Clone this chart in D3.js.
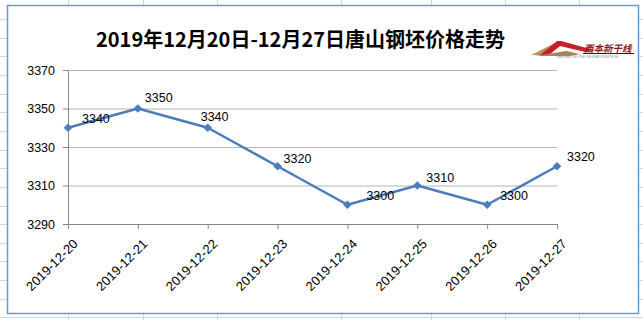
<!doctype html>
<html>
<head>
<meta charset="utf-8">
<script src="https://cdn.jsdelivr.net/npm/d3@7"></script>
<style>
  html, body { margin: 0; padding: 0; background: #fff; }
  svg { display: block; }
</style>
</head>
<body>
<script>
// chart data
const title = "2019年12月20日-12月27日唐山钢坯价格走势";
const dates = ["2019-12-20", "2019-12-21", "2019-12-22", "2019-12-23",
               "2019-12-24", "2019-12-25", "2019-12-26", "2019-12-27"];
const prices = [3340, 3350, 3340, 3320, 3300, 3310, 3300, 3320];
const yTicks = [3290, 3310, 3330, 3350, 3370];

// layout: data label nudges (label left edge / vertical center relative to the point)
const labelDx = [14, 7, -7, 6, 19, 9, 13, 10];
const labelDy = [-9, -11, -11, -8, -9, -8.5, -9, -10];

const width = 643, height = 320;
const box = {x0: 7, y0: 5, x1: 638, y1: 313};
const plot = {left: 68, right: 557, top: 70, bottom: 224};
const font = "'Liberation Sans', Arial, sans-serif";

const svg = d3.select("body").append("svg")
    .attr("width", width)
    .attr("height", height);

// spreadsheet cells behind the chart
const sheet = svg.append("g").attr("stroke", "#d6d6d6").attr("stroke-width", 1);
const sheetCols = [68, 143, 217, 341, 431, 505, 579];
sheet.selectAll("line.c").data(sheetCols).join("line")
    .attr("class", "c")
    .attr("x1", d => d + 0.5).attr("x2", d => d + 0.5)
    .attr("y1", 0).attr("y2", height);
sheet.selectAll("line.r").data(d3.range(19, height, 18.65)).join("line")
    .attr("class", "r")
    .attr("x1", 0).attr("x2", width)
    .attr("y1", d => Math.round(d) + 0.5).attr("y2", d => Math.round(d) + 0.5);

// chart area
svg.append("rect")
    .attr("x", box.x0 + 0.5).attr("y", box.y0 + 0.5)
    .attr("width", box.x1 - box.x0).attr("height", box.y1 - box.y0)
    .attr("fill", "#fff")
    .attr("stroke", "#6a98d6")
    .attr("stroke-width", 1.5);

const x = d3.scalePoint().domain(dates).range([plot.left, plot.right]);
const y = d3.scaleLinear().domain([3290, 3370]).range([plot.bottom, plot.top]);

// gridlines
svg.append("g")
    .attr("transform", `translate(${plot.left},0)`)
    .call(d3.axisLeft(y).tickValues(yTicks.slice(1)).tickSize(-(plot.right - plot.left)).tickFormat(""))
    .call(g => g.select(".domain").remove())
    .call(g => g.selectAll("line").attr("stroke", "#b4b4b4"));

// y axis
svg.append("g")
    .attr("transform", `translate(${plot.left},0)`)
    .call(d3.axisLeft(y).tickValues(yTicks).tickFormat(d3.format("d"))
        .tickSize(5).tickSizeOuter(0).tickPadding(8))
    .call(g => g.selectAll(".domain, line").attr("stroke", "#868686"))
    .call(g => g.selectAll("text")
        .attr("font-family", font).attr("font-size", 12.5).attr("fill", "#000"));

// x axis
svg.append("g")
    .attr("transform", `translate(0,${plot.bottom})`)
    .call(d3.axisBottom(x).tickSize(5).tickSizeOuter(0).tickFormat(""))
    .call(g => g.selectAll(".domain, line").attr("stroke", "#868686"));

svg.append("g")
    .selectAll("text")
    .data(dates)
    .join("text")
      .attr("transform", d => `translate(${x(d) + 4},238) rotate(-45)`)
      .attr("text-anchor", "end")
      .attr("dy", "0.72em")
      .attr("font-family", font)
      .attr("font-size", 13)
      .attr("fill", "#000")
      .text(d => d);

// series line
const pts = dates.map((d, i) => [x(d), y(prices[i])]);
svg.append("path")
    .attr("d", d3.line()(pts))
    .attr("fill", "none")
    .attr("stroke", "#4a7ebb")
    .attr("stroke-width", 2.5)
    .attr("stroke-linejoin", "round");

svg.append("g")
    .selectAll("path")
    .data(pts)
    .join("path")
      .attr("transform", d => `translate(${d[0]},${d[1]}) rotate(45)`)
      .attr("d", d3.symbol(d3.symbolSquare, 38))
      .attr("fill", "#4a7ebb");

// data labels
svg.append("g")
    .selectAll("text")
    .data(pts)
    .join("text")
      .attr("x", (d, i) => d[0] + labelDx[i])
      .attr("y", (d, i) => d[1] + labelDy[i])
      .attr("dy", "0.36em")
      .attr("font-family", font)
      .attr("font-size", 12.5)
      .attr("fill", "#000")
      .text((d, i) => prices[i]);

// title
svg.append("text")
    .attr("x", 300.5)
    .attr("y", 47)
    .attr("text-anchor", "middle")
    .attr("font-family", "'Noto Sans CJK SC', sans-serif")
    .attr("font-weight", "bold")
    .attr("font-size", 20)
    .attr("fill", "#000")
    .text(title);

// logo
const logo = svg.append("g");
logo.append("path")
    .attr("d", "M531,55 L553,44 L558,43 L548,50 L541,55 Z")
    .attr("fill", "#b8955a");
logo.append("path")
    .attr("d", "M540,55 L557,41 L561,41 L594,50 L585,52 L560,46 L549,55 Z")
    .attr("fill", "#c8202a");
logo.append("path")
    .attr("d", "M535,56 L566,51 L580,54 L570,56 Z")
    .attr("fill", "#a8845a");
logo.append("text")
    .attr("x", 584).attr("y", 52)
    .attr("font-family", "'Noto Sans CJK SC', sans-serif")
    .attr("font-weight", "bold")
    .attr("font-style", "italic")
    .attr("font-size", 9.5)
    .attr("fill", "#8a1c1c")
    .text("西本新干线");
logo.append("line")
    .attr("x1", 583).attr("x2", 634)
    .attr("y1", 53.5).attr("y2", 53.5)
    .attr("stroke", "#222").attr("stroke-width", 1);
logo.append("text")
    .attr("x", 556).attr("y", 57.5)
    .attr("font-family", font)
    .attr("font-size", 2.6)
    .attr("fill", "#888")
    .text("XIBEN NEW LINE STEEL INFORMATION NETWORK");
</script>
</body>
</html>
